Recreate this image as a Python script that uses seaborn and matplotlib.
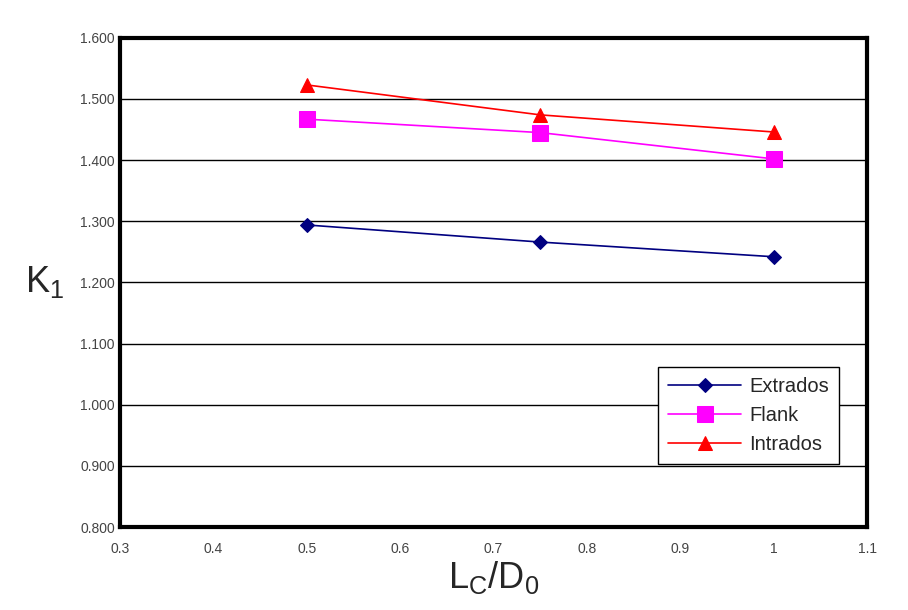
# K1 vs Lc/D0 for extrados, flank and intrados
import pandas as pd
import matplotlib
matplotlib.use('Agg')
import matplotlib.pyplot as plt
import seaborn as sns

# data
lc_d0 = [0.5, 0.75, 1.0]
extrados = [1.294, 1.266, 1.242]
flank = [1.467, 1.445, 1.402]
intrados = [1.523, 1.474, 1.446]

x_ticks = [0.3, 0.4, 0.5, 0.6, 0.7, 0.8, 0.9, 1.0, 1.1]
x_tick_labels = ['0.3', '0.4', '0.5', '0.6', '0.7', '0.8', '0.9', '1', '1.1']
y_ticks = [0.8, 0.9, 1.0, 1.1, 1.2, 1.3, 1.4, 1.5, 1.6]
y_tick_labels = ['0.800', '0.900', '1.000', '1.100', '1.200', '1.300', '1.400', '1.500', '1.600']

df = pd.DataFrame({
    'Lc/D0': lc_d0 * 3,
    'K1': extrados + flank + intrados,
    'Location': ['Extrados'] * 3 + ['Flank'] * 3 + ['Intrados'] * 3,
})

sns.set_style('white')
plt.rcParams['font.family'] = ['Liberation Sans', 'DejaVu Sans']

fig = plt.figure(figsize=(9.08, 6.10), dpi=100)
ax = fig.add_axes([0.132, 0.136, 0.823, 0.802])

palette = {'Extrados': '#000080', 'Flank': '#ff00ff', 'Intrados': '#ff0000'}
markers = {'Extrados': 'D', 'Flank': 's', 'Intrados': '^'}
sizes = {'Extrados': 7, 'Flank': 11, 'Intrados': 10}

for name in ['Extrados', 'Flank', 'Intrados']:
    sub = df[df['Location'] == name]
    sns.lineplot(data=sub, x='Lc/D0', y='K1', ax=ax, color=palette[name],
                 marker=markers[name], markersize=sizes[name],
                 markeredgecolor=palette[name], linewidth=1.2, label=name)

ax.set_xlim(0.3, 1.1)
ax.set_ylim(0.8, 1.6)
ax.set_xticks(x_ticks)
ax.set_xticklabels(x_tick_labels)
ax.set_yticks(y_ticks)
ax.set_yticklabels(y_tick_labels)
ax.tick_params(axis='both', labelsize=10, colors='#444444', direction='in', length=4, width=1)
ax.tick_params(axis='y', length=0)
ax.tick_params(axis='x', pad=11)
ax.yaxis.grid(True, color='black', linewidth=1)
ax.xaxis.grid(False)
for s in ax.spines.values():
    s.set_linewidth(3)
    s.set_color('black')

ax.set_xlabel(r'$\mathregular{L_C/D_0}$', fontsize=26, labelpad=2)
ax.set_ylabel(r'$\mathregular{K_1}$', fontsize=26, rotation=0, labelpad=26, va='center')

leg = ax.legend(loc='lower right', bbox_to_anchor=(0.962, 0.129), fontsize=14.5,
                frameon=True, fancybox=False, framealpha=1, edgecolor='black',
                handlelength=3.6, borderpad=0.5, labelspacing=0.5, handletextpad=0.4,
                borderaxespad=0)
leg.get_frame().set_linewidth(1)

fig.savefig('out.png', dpi=100)
